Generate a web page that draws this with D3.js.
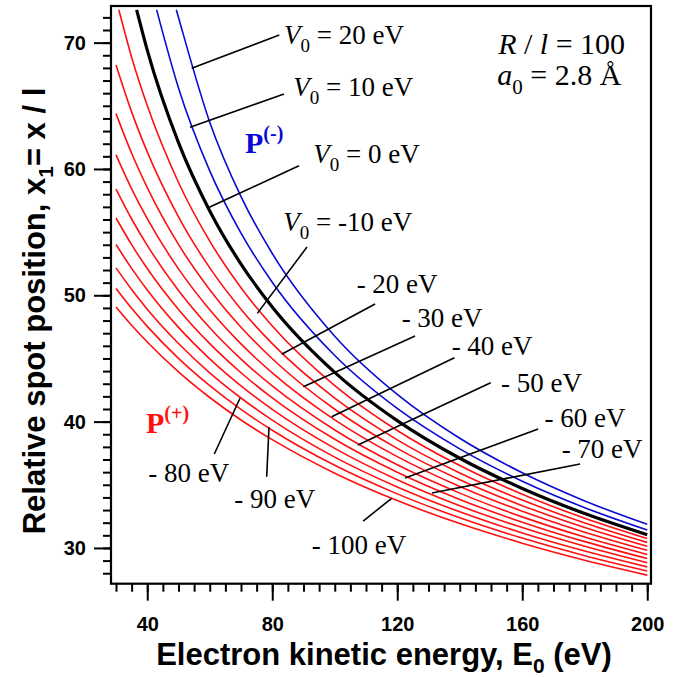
<!DOCTYPE html>
<html>
<head>
<meta charset="utf-8">
<script src="https://cdn.jsdelivr.net/npm/d3@7"></script>
<style>
  body { margin: 0; background: #fff; }
  text { white-space: pre; }
</style>
</head>
<body>
<script>
var width = 682;
var height = 677;

var energy = [30, 35, 40, 50, 60, 70, 80, 100, 120, 140, 160, 180, 200];

// inner potential V0 of every curve
var potentials = [20, 10, 0, -10, -20, -30, -40, -50, -60, -70, -80, -90, -100];

// relative spot position x1 for each curve (null = above the frame)
var spot20   = [null, null, null, 71.99, 63.70, 57.81, 53.31, 46.76, 42.15, 38.68, 35.95, 33.72, 31.87];
var spot10   = [null, null, null, 66.41, 59.85, 54.92, 51.03, 45.23, 41.04, 37.84, 35.28, 33.19, 31.42];
var spot0    = [null, null, 69.41, 62.08, 56.68, 52.47, 49.08, 43.90, 40.08, 37.10, 34.71, 32.72, 31.04];
var spotM10  = [null, 68.85, 65.02, 58.93, 54.29, 50.60, 47.57, 42.85, 39.30, 36.52, 34.25, 32.35, 30.74];
var spotM20  = [68.23, 64.52, 61.35, 56.21, 52.17, 48.90, 46.17, 41.86, 38.56, 35.94, 33.79, 31.98, 30.44];
var spotM30  = [64.38, 61.24, 58.53, 54.03, 50.44, 47.47, 44.98, 40.98, 37.88, 35.40, 33.35, 31.62, 30.13];
var spotM40  = [61.11, 58.42, 56.06, 52.09, 48.85, 46.15, 43.86, 40.14, 37.23, 34.87, 32.91, 31.25, 29.81];
var spotM50  = [58.40, 56.04, 53.95, 50.38, 47.43, 44.95, 42.82, 39.34, 36.58, 34.34, 32.46, 30.86, 29.48];
var spotM60  = [56.12, 54.01, 52.12, 48.88, 46.17, 43.87, 41.88, 38.60, 35.99, 33.84, 32.04, 30.50, 29.16];
var spotM70  = [54.02, 52.13, 50.42, 47.46, 44.97, 42.83, 40.97, 37.88, 35.40, 33.34, 31.61, 30.13, 28.83];
var spotM80  = [52.17, 50.46, 48.90, 46.18, 43.86, 41.87, 40.12, 37.19, 34.83, 32.86, 31.19, 29.76, 28.50];
var spotM90  = [50.54, 48.97, 47.54, 45.01, 42.85, 40.97, 39.32, 36.54, 34.28, 32.39, 30.78, 29.39, 28.18];
var spotM100 = [49.08, 47.63, 46.30, 43.94, 41.91, 40.13, 38.57, 35.92, 33.75, 31.93, 30.38, 29.03, 27.85];

var spots = [spot20, spot10, spot0, spotM10, spotM20, spotM30, spotM40,
             spotM50, spotM60, spotM70, spotM80, spotM90, spotM100];

// point where a curve comes in through the top of the frame [E, x1]
var topEntry = [[49.3, 72.6], [43.0, 72.6], [36.6, 72.6], [30.9, 72.6]];

// curve labels, text start and leader line, in data units [E, x1]
var curveLabels = ["V0 = 20 eV", "V0 = 10 eV", "V0 = 0 eV", "V0 = -10 eV", "- 20 eV", "- 30 eV",
                   "- 40 eV", "- 50 eV", "- 60 eV", "- 70 eV", "- 80 eV", "- 90 eV", "- 100 eV"];
var labelAt = [[83.76, 69.89], [86.74, 65.78], [93.14, 60.45], [83.54, 55.11], [107.0, 50.16],
               [121.4, 47.51], [137.4, 45.27], [153.2, 42.37], [167.1, 39.60], [172.6, 37.10],
               [40.34, 35.24], [67.86, 33.14], [92.62, 29.52]];
var leaderFrom = [[54.22, 67.97], [53.68, 63.30], [59.86, 56.97], [75.22, 48.57], [83.02, 45.33],
                  [89.94, 42.76], [99.02, 40.39], [107.4, 38.15], [122.5, 35.54], [131.1, 34.35],
                  [69.68, 41.85], [78.96, 39.55], [118.2, 33.93]];
var leaderTo = [[82.26, 70.60], [83.76, 65.93], [88.56, 60.26], [91.12, 53.82], [112.9, 49.31],
                [125.7, 46.78], [138.3, 45.06], [149.9, 43.08], [165.1, 39.42], [178.5, 36.65],
                [61.46, 37.44], [78.22, 35.64], [109.1, 32.13]];

var xMajor = [40, 80, 120, 160, 200];
var yMajor = [30, 40, 50, 60, 70];

var sans = "'Liberation Sans', Arial, sans-serif";
var serif = "'Liberation Serif', 'Times New Roman', serif";
var blue = "#0a0ad2";
var red = "#ff1010";

var svg = d3.select("body")
    .append("svg")
    .attr("width", width)
    .attr("height", height);

var x = d3.scaleLinear().domain([28.4, 201.2]).range([111, 651]);
var y = d3.scaleLinear().domain([27.17, 72.9]).range([583.7, 6]);

svg.append("clipPath")
    .attr("id", "plot-clip")
  .append("rect")
    .attr("x", x.range()[0])
    .attr("y", y.range()[1])
    .attr("width", x.range()[1] - x.range()[0])
    .attr("height", y.range()[0] - y.range()[1]);

// axes: minor ticks then major ticks with labels
function styleAxis(g) {
  g.select(".domain").remove();
  g.selectAll("line").attr("stroke", "#000").attr("stroke-width", 2);
  g.selectAll("text")
      .attr("fill", "#000")
      .style("font-family", sans)
      .style("font-weight", "bold")
      .style("font-size", "20px");
}

svg.append("g")
    .attr("transform", "translate(0," + y.range()[0] + ")")
    .call(d3.axisBottom(x).tickValues(d3.range(30, 201, 5)).tickSize(8).tickFormat(""))
    .call(styleAxis);
svg.append("g")
    .attr("transform", "translate(0," + y.range()[0] + ")")
    .call(d3.axisBottom(x).tickValues(xMajor).tickSize(17).tickPadding(16).tickFormat(d3.format("d")))
    .call(styleAxis);

svg.append("g")
    .attr("transform", "translate(" + x.range()[0] + ",0)")
    .call(d3.axisLeft(y).tickValues(d3.range(28, 73, 1)).tickSize(8).tickFormat(""))
    .call(styleAxis);
svg.append("g")
    .attr("transform", "translate(" + x.range()[0] + ",0)")
    .call(d3.axisLeft(y).tickValues(yMajor).tickSize(17).tickPadding(8).tickFormat(d3.format("d")))
    .call(styleAxis);

// curves
var line = d3.line()
    .x(function(d) { return x(d[0]); })
    .y(function(d) { return y(d[1]); })
    .curve(d3.curveMonotoneX);

var curves = potentials.map(function(v0, i) {
  var pts = energy.map(function(e, j) { return [e, spots[i][j]]; })
      .filter(function(p) { return p[1] != null; });
  if (topEntry[i]) pts.unshift(topEntry[i]);
  return { v0: v0, points: pts };
});

svg.append("g")
    .attr("clip-path", "url(#plot-clip)")
  .selectAll("path")
    .data(curves)
  .enter().append("path")
    .attr("fill", "none")
    .attr("stroke", function(d) { return d.v0 > 0 ? blue : (d.v0 < 0 ? red : "#000"); })
    .attr("stroke-width", function(d) { return d.v0 == 0 ? 3.2 : 1.6; })
    .attr("d", function(d) { return line(d.points); });

// leader lines
svg.append("g")
  .selectAll("line")
    .data(curveLabels)
  .enter().append("line")
    .attr("x1", function(d, i) { return x(leaderFrom[i][0]); })
    .attr("y1", function(d, i) { return y(leaderFrom[i][1]); })
    .attr("x2", function(d, i) { return x(leaderTo[i][0]); })
    .attr("y2", function(d, i) { return y(leaderTo[i][1]); })
    .attr("stroke", "#000")
    .attr("stroke-width", 1.6);

// curve labels
var label = svg.append("g")
  .selectAll("text")
    .data(curveLabels)
  .enter().append("text")
    .attr("x", function(d, i) { return x(labelAt[i][0]); })
    .attr("y", function(d, i) { return y(labelAt[i][1]); })
    .style("font-family", serif)
    .style("font-size", "27px")
    .attr("fill", "#000");

label.each(function(d) {
  var t = d3.select(this);
  if (d.indexOf("V0") == 0) {
    t.append("tspan").style("font-style", "italic").text("V");
    t.append("tspan").attr("dy", 8).style("font-size", "19px").text("0");
    t.append("tspan").attr("dy", -8).text(d.slice(2));
  } else {
    t.text(d);
  }
});

// P(-) and P(+) markers
function regionLabel(pos, sign, color) {
  var t = svg.append("text")
      .attr("x", x(pos[0]))
      .attr("y", y(pos[1]))
      .attr("fill", color)
      .style("font-family", serif)
      .style("font-weight", "bold")
      .style("font-size", "30px");
  t.append("tspan").text("P");
  t.append("tspan").attr("dy", -13).style("font-size", "20px").text("(" + sign + ")");
}
regionLabel([71.28, 61.24], "-", blue);
regionLabel([39.6, 39.08], "+", red);

// parameters box text
var params = svg.append("g")
    .style("font-family", serif)
    .style("font-size", "30px");

var p1 = params.append("text")
    .attr("x", x(152.3))
    .attr("y", y(69.10));
p1.append("tspan").style("font-style", "italic").text("R");
p1.append("tspan").text(" / ");
p1.append("tspan").style("font-style", "italic").text("l");
p1.append("tspan").text(" = 100");

var p2 = params.append("text")
    .attr("x", x(152.0))
    .attr("y", y(66.65));
p2.append("tspan").style("font-style", "italic").text("a");
p2.append("tspan").attr("dy", 9).style("font-size", "21px").text("0");
p2.append("tspan").attr("dy", -9).text(" = 2.8 \u00c5");

// frame
svg.append("rect")
    .attr("x", x.range()[0])
    .attr("y", y.range()[1])
    .attr("width", x.range()[1] - x.range()[0])
    .attr("height", y.range()[0] - y.range()[1])
    .attr("fill", "none")
    .attr("stroke", "#000")
    .attr("stroke-width", 2.2);

// axis titles
var xTitle = svg.append("text")
    .attr("x", (x.range()[0] + x.range()[1]) / 2 + 3)
    .attr("y", 665)
    .attr("text-anchor", "middle")
    .style("font-family", sans)
    .style("font-weight", "bold")
    .style("font-size", "31px");
xTitle.append("tspan").text("Electron kinetic energy, E");
xTitle.append("tspan").attr("dy", 8).style("font-size", "21px").text("0");
xTitle.append("tspan").attr("dy", -8).text(" (eV)");

var yTitle = svg.append("text")
    .attr("transform", "translate(45,311) rotate(-90)")
    .attr("text-anchor", "middle")
    .style("font-family", sans)
    .style("font-weight", "bold")
    .style("font-size", "31px");
yTitle.append("tspan").text("Relative spot position, x");
yTitle.append("tspan").attr("dy", 8).style("font-size", "21px").text("1");
yTitle.append("tspan").attr("dy", -8).text("= x / l");
</script>
</body>
</html>
